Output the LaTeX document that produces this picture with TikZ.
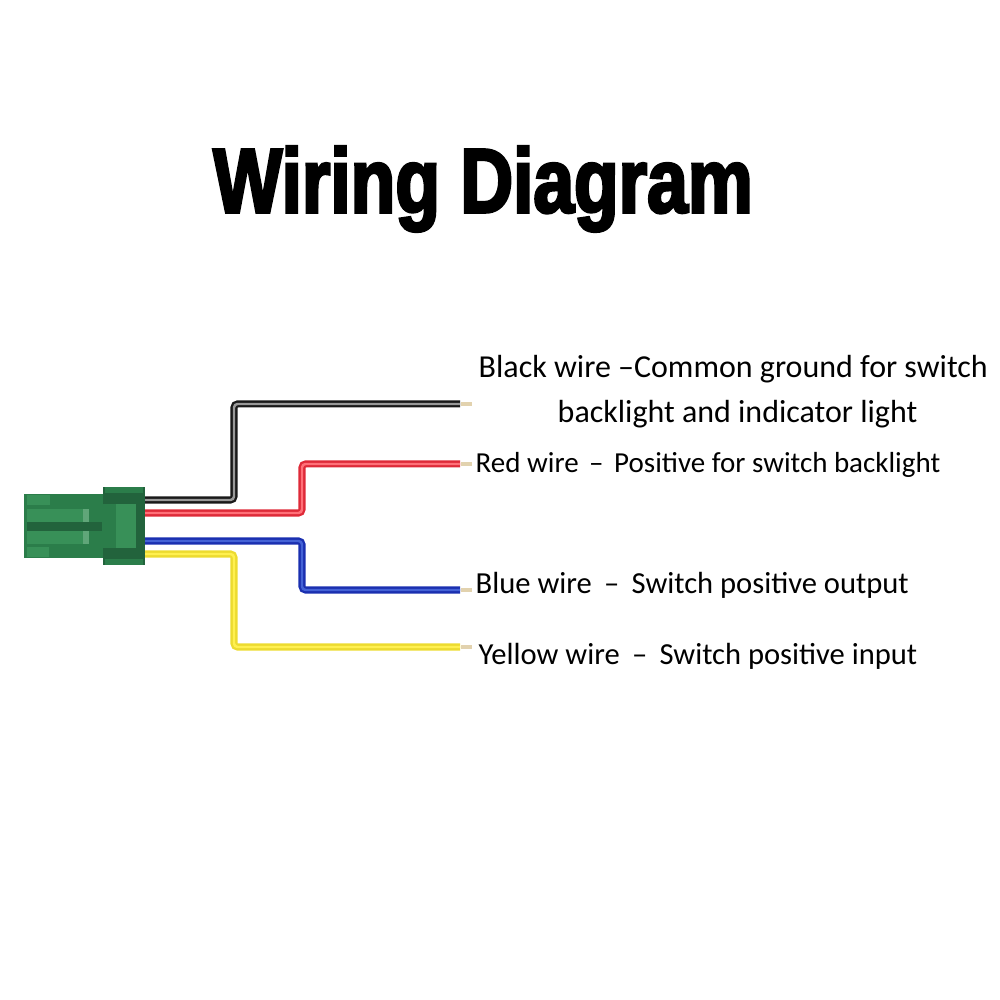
\documentclass[tikz,border=0pt]{standalone}
\usepackage{fontspec}
\setmainfont{Carlito}
\newfontfamily\titlefont[FakeBold=3,FakeStretch=0.8]{Liberation Sans Bold}
\usetikzlibrary{positioning}
\definecolor{bodyGreen}{HTML}{2B7D4A}
\definecolor{darkGreen}{HTML}{22633C}
\definecolor{lightGreen}{HTML}{389058}
\definecolor{tipTan}{HTML}{E2D2AE}
\definecolor{wireRed}{HTML}{DE2A38}
\definecolor{coreRed}{HTML}{FF7078}
\definecolor{wireBlue}{HTML}{1A2FB0}
\definecolor{coreBlue}{HTML}{4462D6}
\definecolor{wireYellow}{HTML}{ECDB30}
\definecolor{coreYellow}{HTML}{FFF050}
\newcommand{\wireDash}{\hspace{3.5pt}--\hspace{3.5pt}}
\tikzstyle{wire}=[line width=0.65pt, double distance=0.7pt, rounded corners=1pt]
\tikzstyle{wireTip}=[draw=none, fill=tipTan, minimum width=0.11cm, minimum height=0.045cm, inner sep=0pt]
\tikzstyle{wireLabel}=[font=\fontsize{8.7pt}{10pt}\selectfont, inner sep=0pt, anchor=west]
\tikzstyle{part}=[draw=none, fill=lightGreen]

\begin{document}
\begin{tikzpicture}
    \useasboundingbox (0,0) rectangle (10,10);
    \node[font=\titlefont\fontsize{26pt}{30pt}\selectfont, inner sep=0pt] (title) at (4.83, 8.11) {Wiring Diagram};

    % connector
    \fill[bodyGreen] (0.24, 5.06) rectangle (1.03, 4.42);
    \fill[darkGreen] (1.03, 5.13) rectangle (1.45, 4.35);
    \fill[bodyGreen] (1.05, 5.13) rectangle (1.43, 5.07);
    \fill[bodyGreen] (1.05, 4.41) rectangle (1.43, 4.35);
    \fill[bodyGreen] (1.03, 4.96) rectangle (1.16, 4.52);
    \fill[part] (0.27, 5.05) rectangle (0.50, 4.95);
    \fill[part] (0.27, 4.91) rectangle (0.83, 4.78);
    \fill[part] (0.27, 4.69) rectangle (0.83, 4.56);
    \fill[part] (0.27, 4.53) rectangle (0.49, 4.43);
    \fill[darkGreen] (0.27, 4.78) rectangle (1.02, 4.69);
    \fill[lightGreen!80!white] (0.83, 4.91) rectangle (0.89, 4.78);
    \fill[lightGreen!80!white] (0.83, 4.69) rectangle (0.89, 4.56);
    \fill[lightGreen] (1.16, 4.96) rectangle (1.36, 4.52);

    % wire ends
    \coordinate (s1) at (1.45, 5.00);
    \coordinate (s2) at (1.45, 4.87);
    \coordinate (s3) at (1.45, 4.59);
    \coordinate (s4) at (1.45, 4.46);
    \node[wireTip, anchor=west] (t1) at (4.60, 5.96) {};
    \node[wireTip, anchor=west] (t2) at (4.60, 5.36) {};
    \node[wireTip, anchor=west] (t3) at (4.60, 4.10) {};
    \node[wireTip, anchor=west] (t4) at (4.60, 3.53) {};

    % wires
    \draw[wire, draw=black!90, double=black!40] (s1) -| (2.34, 5.96) -- (t1.west);
    \draw[wire, draw=wireRed, double=coreRed] (s2) -| (3.02, 5.36) -- (t2.west);
    \draw[wire, draw=wireBlue, double=coreBlue] (s3) -| (3.02, 4.10) -- (t3.west);
    \draw[wire, draw=wireYellow, double=coreYellow] (s4) -| (2.34, 3.53) -- (t4.west);

    % labels
    \node[wireLabel, font=\fontsize{9.1pt}{10pt}\selectfont] (l11) at (4.78, 6.31) {Black wire --Common ground for switch};
    \node[wireLabel, font=\fontsize{9.1pt}{10pt}\selectfont] (l12) at (5.57, 5.86) {backlight and indicator light};
    \node[wireLabel, font=\fontsize{8.25pt}{10pt}\selectfont] (l2) at (4.75, 5.35) {Red wire\hspace{3pt}--\hspace{3pt}Positive for switch backlight};
    \node[wireLabel] (l3) at (4.75, 4.15) {Blue wire\wireDash Switch positive output};
    \node[wireLabel] (l4) at (4.78, 3.44) {Yellow wire\wireDash Switch positive input};
\end{tikzpicture}
\end{document}
